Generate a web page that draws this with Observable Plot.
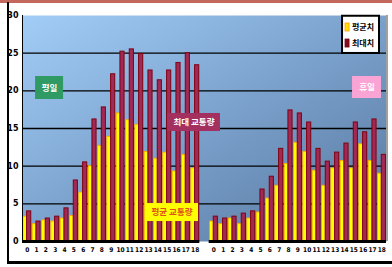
<!DOCTYPE html>
<html><head><meta charset="utf-8">
<script src="https://cdn.jsdelivr.net/npm/d3@7"></script>
<script src="https://cdn.jsdelivr.net/npm/@observablehq/plot@0.6"></script>
<style>
body{margin:0;background:#fff;}
#wrap{position:relative;width:392px;height:267px;overflow:hidden;background:#fff;}
#wrap svg{position:absolute;left:0;top:0;}
.deco{position:absolute;}
</style></head><body>
<div id="wrap"></div>
<script>
// ---- data ----
const hourLabels = ["0","1","2","3","4","5","6","7","8","9","10","11","12","13","14","15","16","17","18"];
const groupNames = ["평일", "휴일"];
const seriesNames = ["평균치", "최대치"];
const weekdayAvg = [3.3, 2.3, 2.8, 2.65, 3.05, 3.4, 6.5, 10.0, 12.7, 13.9, 17.0, 16.1, 15.5, 11.9, 11.0, 11.8, 9.3, 11.5, 9.7];
const weekdayMax = [4.0, 2.65, 3.05, 3.3, 4.4, 8.1, 10.5, 16.2, 17.8, 22.2, 25.2, 25.5, 24.9, 22.7, 21.4, 22.7, 23.7, 25.0, 23.4];
const holidayAvg = [2.65, 2.3, 3.05, 2.3, 3.05, 3.85, 5.7, 7.4, 10.3, 13.1, 11.9, 9.4, 7.4, 9.7, 10.7, 9.7, 12.9, 10.7, 9.0];
const holidayMax = [3.3, 3.05, 3.3, 3.7, 4.0, 6.9, 8.6, 12.3, 17.4, 17.0, 15.8, 12.3, 10.6, 11.8, 13.0, 15.8, 14.5, 16.2, 11.5];
const yTicks = [0, 5, 10, 15, 20, 25, 30];
const annoTexts = ["최대 교통량", "평균 교통량"];

// ---- build table (group 2 starts after one empty slot) ----
const rows = [];
hourLabels.forEach((h, j) => rows.push({i: j, label: h, group: 0, avg: weekdayAvg[j], max: weekdayMax[j]}));
hourLabels.forEach((h, j) => rows.push({i: hourLabels.length + 1 + j, label: h, group: 1, avg: holidayAvg[j], max: holidayMax[j]}));
const labelOf = new Map(rows.map(d => [d.i, d.label]));
const nSlots = hourLabels.length * 2 + 1;
const groupSpans = [0, 1].map(g => {
  const r = rows.filter(d => d.group === g);
  return {x1: d3.min(r, d => d.i) - 0.5, x2: d3.max(r, d => d.i) + 0.5};
});

// annotation boxes (data space)
const boxes = [
  {x1: 0.9, x2: 3.9, y1: 18.85, y2: 21.9, fill: "#2f9a63", text: groupNames[0], color: "#ffffff"},
  {x1: 34.86, x2: 37.96, y1: 18.98, y2: 21.9, fill: "#f9a4d4", text: groupNames[1], color: "#ffffff"},
  {x1: 15.04, x2: 20.71, y1: 14.6, y2: 16.99, fill: "#a3305f", text: annoTexts[0], color: "#ffffff"},
  {x1: 12.68, x2: 18.36, y1: 2.65, y2: 5.04, fill: "#ffff00", text: annoTexts[1], color: "#e0501a"}
];
const legendBox = {x1: 33.79, x2: 37.75, y1: 24.96, y2: 29.9};
const legendItems = [
  {x1: 34.11, x2: 34.54, y1: 27.88, y2: 28.94, tx: 34.8, ty: 28.41, fill: "#ffe000", stroke: "#ff9900", text: seriesNames[0]},
  {x1: 34.11, x2: 34.54, y1: 25.75, y2: 26.81, tx: 34.8, ty: 26.28, fill: "#8b0a1e", stroke: "#6a0010", text: seriesNames[1]}
];

const plot = Plot.plot({
  width: 392, height: 267,
  marginLeft: 22, marginRight: 6, marginTop: 15, marginBottom: 26,
  style: {background: "transparent", fontFamily: "'DejaVu Sans', sans-serif"},
  x: {type: "linear", domain: [-0.5, nSlots - 0.5], axis: null},
  y: {domain: [0, 30], axis: null},
  marks: [
    Plot.frame({fill: "url(#bgGrad)", stroke: null}),
    Plot.ruleY([5, 10, 15, 20, 25], {stroke: "#000", strokeWidth: 1.3}),
    Plot.rectY(rows, {x1: d => d.i - 0.5, x2: d => d.i + 0.5, y: "avg", fill: "#ffff00", stroke: "#ffa500", strokeWidth: 0.9, insetLeft: 0.8, insetRight: 4.9}),
    Plot.rectY(rows, {x1: d => d.i - 0.5, x2: d => d.i + 0.5, y: "max", fill: "#a02a56", stroke: "#800010", strokeWidth: 1, insetLeft: 4.6, insetRight: 0.6}),
    Plot.ruleY(groupSpans, {x1: "x1", x2: "x2", y: 0, stroke: "#000", strokeWidth: 3}),
    Plot.axisY({ticks: yTicks, tickSize: 0, tickPadding: 4, fontSize: 8, fontWeight: "bold", fill: "#000"}),
    Plot.axisX({ticks: rows.map(d => d.i), tickFormat: i => labelOf.get(i) ?? "", tickSize: 0, tickPadding: 6, fontSize: 6.5, fontWeight: "bold", fill: "#000", fontFamily: "'Liberation Sans Narrow', 'DejaVu Sans Condensed', sans-serif"}),
    // annotation boxes
    Plot.rect(boxes, {x1: "x1", x2: "x2", y1: "y1", y2: "y2", fill: "fill"}),
    Plot.text(boxes, {x: d => (d.x1 + d.x2) / 2, y: d => (d.y1 + d.y2) / 2, text: "text", fill: "color", fontSize: 8.5, fontFamily: "'Noto Sans CJK KR', sans-serif", fontWeight: "bold"}),
    // legend
    Plot.rect([legendBox], {x1: "x1", x2: "x2", y1: "y1", y2: "y2", fill: "#fff", stroke: "#000", strokeWidth: 2}),
    Plot.rect(legendItems, {x1: "x1", x2: "x2", y1: "y1", y2: "y2", fill: "fill", stroke: "stroke", strokeWidth: 0.8}),
    Plot.text(legendItems, {x: "tx", y: "ty", text: "text", textAnchor: "start", fontSize: 8, fontWeight: "bold", fill: "#000", fontFamily: "'Noto Sans CJK KR', sans-serif"})
  ]
});

d3.select(plot).insert("defs", ":first-child").html(
  '<linearGradient id="bgGrad" x1="0" y1="0" x2="1" y2="1">' +
  '<stop offset="0" stop-color="#a2cdf7"/>' +
  '<stop offset="0.5" stop-color="#7aa1cc"/>' +
  '<stop offset="1" stop-color="#56769b"/>' +
  '</linearGradient>');

const wrap = document.getElementById("wrap");
wrap.appendChild(plot);
const deco = (css) => { const d = document.createElement("div"); d.className = "deco"; d.style.cssText = css; wrap.appendChild(d); };
deco("left:0;top:0;width:392px;height:2.5px;background:#c4675c");
deco("left:7px;top:2px;width:2px;height:261px;background:#000");
deco("left:7px;top:261px;width:385px;height:2.5px;background:#000");
deco("left:21.5px;top:15px;width:1px;height:226px;background:#000");
deco("left:386px;top:15px;width:2px;height:226px;background:#a0a0a0");
</script>
</body></html>
